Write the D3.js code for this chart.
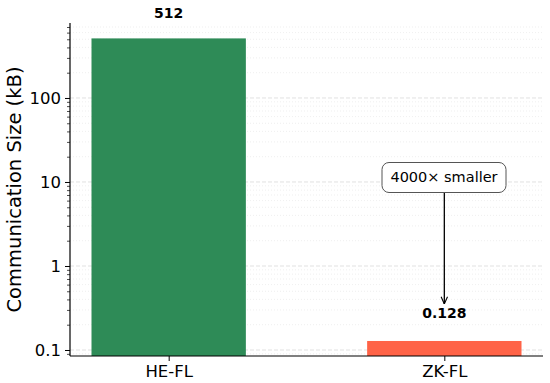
<!DOCTYPE html>
<html><head><meta charset="utf-8">
<script src="https://cdn.jsdelivr.net/npm/d3@7"></script>
<style>body{margin:0;background:#fff}svg{display:block;font-family:"DejaVu Sans",sans-serif}</style>
</head><body><svg id="c" width="550" height="383"></svg>
<script>
const categories = ["HE-FL", "ZK-FL"];
const values = [512, 0.128];
const valueLabels = ["512", "0.128"];
const colors = ["#2e8b57", "#ff6347"];
const yTicks = [0.1, 1, 10, 100];
const yTickLabels = ["0.1", "1", "10", "100"];
const annotationText = "4000\u00d7 smaller";
const yLabel = "Communication Size (kB)";

const svg = d3.select("#c");
const L = 70, R = 543, T = 23, B = 356;
const barW = 0.56;
const x = d3.scaleLinear().domain([-0.358, 1.358]).range([L, R]);
const y = d3.scaleLog().domain([0.0848, 781]).range([B, T]);

// grid minor
const minor = [];
for (let e = -2; e <= 2; e++) for (let k = 2; k <= 9; k++) {
  const v = k * Math.pow(10, e);
  if (v > y.domain()[0] && v < y.domain()[1]) minor.push(v);
}
svg.append("g").selectAll("line").data(minor).join("line")
  .attr("x1", L).attr("x2", R).attr("y1", d => y(d)).attr("y2", d => y(d))
  .attr("stroke", "#ebebeb").attr("stroke-width", 0.8).attr("stroke-dasharray", "1,2");
svg.append("g").selectAll("line").data(yTicks).join("line")
  .attr("x1", L).attr("x2", R).attr("y1", d => y(d)).attr("y2", d => y(d))
  .attr("stroke", "#d9d9d9").attr("stroke-width", 0.8).attr("stroke-dasharray", "4,2");

// bars
svg.append("g").selectAll("rect").data(values).join("rect")
  .attr("x", (d, i) => x(i - barW / 2)).attr("width", (d, i) => x(i + barW / 2) - x(i - barW / 2))
  .attr("y", d => y(d)).attr("height", d => B - y(d))
  .attr("fill", (d, i) => colors[i]);

// axes
const yAxis = d3.axisLeft(y).tickValues(yTicks).tickFormat((d, i) => yTickLabels[i]).tickSize(5).tickPadding(4);
const gy = svg.append("g").attr("transform", `translate(${L},0)`).call(yAxis);
gy.select(".domain").remove();
gy.selectAll("text").attr("font-size", 16.5).attr("fill", "#000").attr("font-family", "DejaVu Sans");
gy.selectAll("line").attr("stroke", "#000").attr("stroke-width", 1);
const gym = svg.append("g").attr("transform", `translate(${L},0)`).call(d3.axisLeft(y).tickValues(minor).tickFormat("").tickSize(3));
gym.select(".domain").remove();
gym.selectAll("line").attr("stroke", "#000").attr("stroke-width", 0.7);

const xAxis = d3.axisBottom(x).tickValues([0, 1]).tickFormat((d, i) => categories[i]).tickSize(5).tickPadding(4);
const gx = svg.append("g").attr("transform", `translate(0,${B})`).call(xAxis);
gx.select(".domain").remove();
gx.selectAll("text").attr("font-size", 16.5).attr("fill", "#000").attr("font-family", "DejaVu Sans");
gx.selectAll("line").attr("stroke", "#000");

svg.append("line").attr("x1", L).attr("x2", L).attr("y1", T).attr("y2", B).attr("stroke", "#000").attr("stroke-width", 1.2);
svg.append("line").attr("x1", L).attr("x2", R).attr("y1", B).attr("y2", B).attr("stroke", "#000").attr("stroke-width", 1.2);

// value labels
svg.append("g").selectAll("text").data(values).join("text")
  .attr("x", (d, i) => x(i)).attr("y", (d, i) => i === 0 ? 18 : 318)
  .attr("text-anchor", "middle").attr("font-size", 14).attr("font-weight", "bold")
  .text((d, i) => valueLabels[i]);

// y label
svg.append("text").attr("transform", `translate(21,${(T + B) / 2}) rotate(-90)`)
  .attr("text-anchor", "middle").attr("font-size", 19.5).text(yLabel);

// annotation
const ax = x(1), boxCy = 177;
svg.append("defs").append("marker").attr("id", "ah").attr("viewBox", "0 0 10 10")
  .attr("refX", 10).attr("refY", 5).attr("markerWidth", 8).attr("markerHeight", 8).attr("orient", "auto")
  .attr("markerUnits", "userSpaceOnUse")
  .append("path").attr("d", "M1,1 L10,5 L1,9").attr("fill", "none").attr("stroke", "#000").attr("stroke-width", 1.4);
svg.append("line").attr("x1", ax).attr("x2", ax).attr("y1", 193).attr("y2", 304)
  .attr("stroke", "#000").attr("stroke-width", 1.3).attr("marker-end", "url(#ah)");
svg.append("rect").attr("x", 382).attr("y", 162.5).attr("width", 124).attr("height", 30)
  .attr("rx", 7).attr("fill", "#fff").attr("stroke", "#555").attr("stroke-width", 1);
svg.append("text").attr("x", 444).attr("y", boxCy + 5).attr("text-anchor", "middle").attr("font-size", 14.5).text(annotationText);
</script></body></html>
